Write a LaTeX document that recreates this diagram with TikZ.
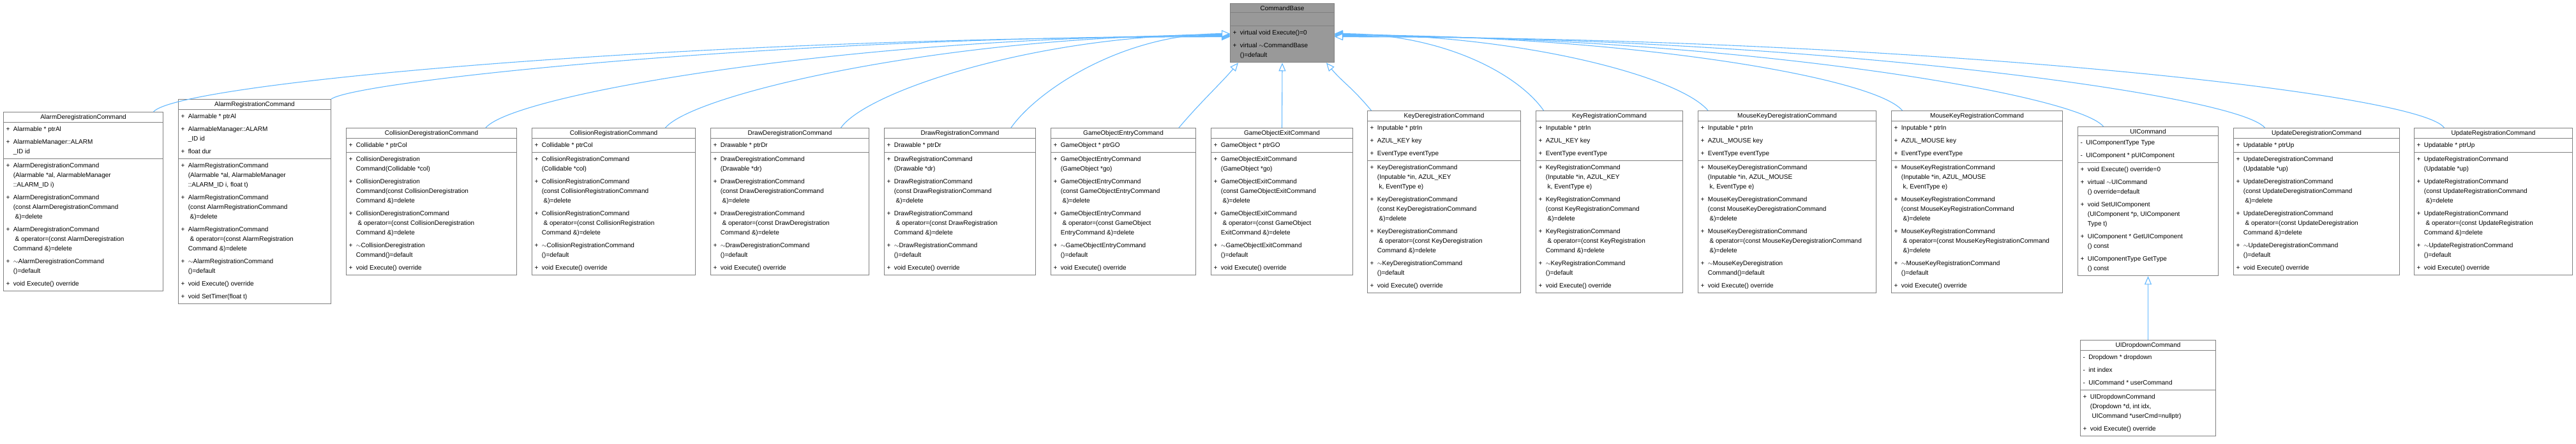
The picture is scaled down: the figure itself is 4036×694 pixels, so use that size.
\documentclass[tikz,border=0pt]{standalone}
\usepackage{fontspec}
\setmainfont{Liberation Sans}
\usetikzlibrary{shapes.multipart,arrows.meta}
\definecolor{edgeblue}{HTML}{63B8FF}
\definecolor{boxline}{HTML}{808080}
\definecolor{basefill}{HTML}{999999}
\newcommand\mrows[1]{\begin{tabular}{@{}l@{\ \ }l@{}}#1\end{tabular}}
\tikzset{
  umlclass/.style={rectangle split, rectangle split parts=3, draw=boxline, line width=1pt,
    fill=white, anchor=north west, inner xsep=4pt, inner ysep=3pt,
    rectangle split part align={center,left,left},
    font=\fontsize{10}{15}\selectfont},
  inh/.style={draw=edgeblue, line width=1.1pt, -{Triangle[open,length=13pt,width=11pt,fill=white]}}
}
\begin{document}
\begin{tikzpicture}[x=1pt,y=-1pt]
  \useasboundingbox (0,0) rectangle (4036,694);
  % base class
  \node[umlclass, fill=basefill, minimum width=163pt] (base) at (1927,5)
  {CommandBase\nodepart{two}\rule{0pt}{14pt}\nodepart{three}\mrows{+ & virtual void Execute()=0\\[5pt]
    + & virtual $\sim$CommandBase\\ & ()=default}};
  % derived classes
  \node[umlclass, minimum width=250pt] (alarmdereg) at (5,175)
  {AlarmDeregistrationCommand\nodepart{two}\mrows{+ & Alarmable * ptrAl\\[5pt]
    + & AlarmableManager::ALARM\\ & \_ID id}\nodepart{three}\mrows{
    + & AlarmDeregistrationCommand\\ & (Alarmable *al, AlarmableManager\\ & ::ALARM\_ID i)\\[5pt]
    + & AlarmDeregistrationCommand\\ & (const AlarmDeregistrationCommand\\ & \ \&)=delete\\[5pt]
    + & AlarmDeregistrationCommand\\ & \ \& operator=(const AlarmDeregistration\\ & Command \&)=delete\\[5pt]
    + & $\sim$AlarmDeregistrationCommand\\ & ()=default\\[5pt]
    + & void Execute() override}};
  \node[umlclass, minimum width=239pt] (alarmreg) at (279,155)
  {AlarmRegistrationCommand\nodepart{two}\mrows{+ & Alarmable * ptrAl\\[5pt]
    + & AlarmableManager::ALARM\\ & \_ID id\\[5pt] + & float dur}\nodepart{three}\mrows{
    + & AlarmRegistrationCommand\\ & (Alarmable *al, AlarmableManager\\ & ::ALARM\_ID i, float t)\\[5pt]
    + & AlarmRegistrationCommand\\ & (const AlarmRegistrationCommand\\ & \ \&)=delete\\[5pt]
    + & AlarmRegistrationCommand\\ & \ \& operator=(const AlarmRegistration\\ & Command \&)=delete\\[5pt]
    + & $\sim$AlarmRegistrationCommand\\ & ()=default\\[5pt]
    + & void Execute() override\\[5pt]
    + & void SetTimer(float t)}};
  \node[umlclass, minimum width=267pt] (coldereg) at (542,200)
  {CollisionDeregistrationCommand\nodepart{two}\mrows{+ & Collidable * ptrCol}\nodepart{three}\mrows{
    + & CollisionDeregistration\\ & Command(Collidable *col)\\[5pt]
    + & CollisionDeregistration\\ & Command(const CollisionDeregistration\\ & Command \&)=delete\\[5pt]
    + & CollisionDeregistrationCommand\\ & \ \& operator=(const CollisionDeregistration\\ & Command \&)=delete\\[5pt]
    + & $\sim$CollisionDeregistration\\ & Command()=default\\[5pt]
    + & void Execute() override}};
  \node[umlclass, minimum width=256pt] (colreg) at (833,200)
  {CollisionRegistrationCommand\nodepart{two}\mrows{+ & Collidable * ptrCol}\nodepart{three}\mrows{
    + & CollisionRegistrationCommand\\ & (Collidable *col)\\[5pt]
    + & CollisionRegistrationCommand\\ & (const CollisionRegistrationCommand\\ & \ \&)=delete\\[5pt]
    + & CollisionRegistrationCommand\\ & \ \& operator=(const CollisionRegistration\\ & Command \&)=delete\\[5pt]
    + & $\sim$CollisionRegistrationCommand\\ & ()=default\\[5pt]
    + & void Execute() override}};
  \node[umlclass, minimum width=248pt] (drawdereg) at (1113,200)
  {DrawDeregistrationCommand\nodepart{two}\mrows{+ & Drawable * ptrDr}\nodepart{three}\mrows{
    + & DrawDeregistrationCommand\\ & (Drawable *dr)\\[5pt]
    + & DrawDeregistrationCommand\\ & (const DrawDeregistrationCommand\\ & \ \&)=delete\\[5pt]
    + & DrawDeregistrationCommand\\ & \ \& operator=(const DrawDeregistration\\ & Command \&)=delete\\[5pt]
    + & $\sim$DrawDeregistrationCommand\\ & ()=default\\[5pt]
    + & void Execute() override}};
  \node[umlclass, minimum width=237pt] (drawreg) at (1385,200)
  {DrawRegistrationCommand\nodepart{two}\mrows{+ & Drawable * ptrDr}\nodepart{three}\mrows{
    + & DrawRegistrationCommand\\ & (Drawable *dr)\\[5pt]
    + & DrawRegistrationCommand\\ & (const DrawRegistrationCommand\\ & \ \&)=delete\\[5pt]
    + & DrawRegistrationCommand\\ & \ \& operator=(const DrawRegistration\\ & Command \&)=delete\\[5pt]
    + & $\sim$DrawRegistrationCommand\\ & ()=default\\[5pt]
    + & void Execute() override}};
  \node[umlclass, minimum width=227pt] (goentry) at (1646,200)
  {GameObjectEntryCommand\nodepart{two}\mrows{+ & GameObject * ptrGO}\nodepart{three}\mrows{
    + & GameObjectEntryCommand\\ & (GameObject *go)\\[5pt]
    + & GameObjectEntryCommand\\ & (const GameObjectEntryCommand\\ & \ \&)=delete\\[5pt]
    + & GameObjectEntryCommand\\ & \ \& operator=(const GameObject\\ & EntryCommand \&)=delete\\[5pt]
    + & $\sim$GameObjectEntryCommand\\ & ()=default\\[5pt]
    + & void Execute() override}};
  \node[umlclass, minimum width=222pt] (goexit) at (1897,200)
  {GameObjectExitCommand\nodepart{two}\mrows{+ & GameObject * ptrGO}\nodepart{three}\mrows{
    + & GameObjectExitCommand\\ & (GameObject *go)\\[5pt]
    + & GameObjectExitCommand\\ & (const GameObjectExitCommand\\ & \ \&)=delete\\[5pt]
    + & GameObjectExitCommand\\ & \ \& operator=(const GameObject\\ & ExitCommand \&)=delete\\[5pt]
    + & $\sim$GameObjectExitCommand\\ & ()=default\\[5pt]
    + & void Execute() override}};
  \node[umlclass, minimum width=240pt] (keydereg) at (2142,173)
  {KeyDeregistrationCommand\nodepart{two}\mrows{+ & Inputable * ptrIn\\[5pt]
    + & AZUL\_KEY key\\[5pt] + & EventType eventType}\nodepart{three}\mrows{
    + & KeyDeregistrationCommand\\ & (Inputable *in, AZUL\_KEY\\ & \ k, EventType e)\\[5pt]
    + & KeyDeregistrationCommand\\ & (const KeyDeregistrationCommand\\ & \ \&)=delete\\[5pt]
    + & KeyDeregistrationCommand\\ & \ \& operator=(const KeyDeregistration\\ & Command \&)=delete\\[5pt]
    + & $\sim$KeyDeregistrationCommand\\ & ()=default\\[5pt]
    + & void Execute() override}};
  \node[umlclass, minimum width=230pt] (keyreg) at (2406,173)
  {KeyRegistrationCommand\nodepart{two}\mrows{+ & Inputable * ptrIn\\[5pt]
    + & AZUL\_KEY key\\[5pt] + & EventType eventType}\nodepart{three}\mrows{
    + & KeyRegistrationCommand\\ & (Inputable *in, AZUL\_KEY\\ & \ k, EventType e)\\[5pt]
    + & KeyRegistrationCommand\\ & (const KeyRegistrationCommand\\ & \ \&)=delete\\[5pt]
    + & KeyRegistrationCommand\\ & \ \& operator=(const KeyRegistration\\ & Command \&)=delete\\[5pt]
    + & $\sim$KeyRegistrationCommand\\ & ()=default\\[5pt]
    + & void Execute() override}};
  \node[umlclass, minimum width=279pt] (mousedereg) at (2660,173)
  {MouseKeyDeregistrationCommand\nodepart{two}\mrows{+ & Inputable * ptrIn\\[5pt]
    + & AZUL\_MOUSE key\\[5pt] + & EventType eventType}\nodepart{three}\mrows{
    + & MouseKeyDeregistrationCommand\\ & (Inputable *in, AZUL\_MOUSE\\ & \ k, EventType e)\\[5pt]
    + & MouseKeyDeregistrationCommand\\ & (const MouseKeyDeregistrationCommand\\ & \ \&)=delete\\[5pt]
    + & MouseKeyDeregistrationCommand\\ & \ \& operator=(const MouseKeyDeregistrationCommand\\ & \ \&)=delete\\[5pt]
    + & $\sim$MouseKeyDeregistration\\ & Command()=default\\[5pt]
    + & void Execute() override}};
  \node[umlclass, minimum width=268pt] (mousereg) at (2963,173)
  {MouseKeyRegistrationCommand\nodepart{two}\mrows{+ & Inputable * ptrIn\\[5pt]
    + & AZUL\_MOUSE key\\[5pt] + & EventType eventType}\nodepart{three}\mrows{
    + & MouseKeyRegistrationCommand\\ & (Inputable *in, AZUL\_MOUSE\\ & \ k, EventType e)\\[5pt]
    + & MouseKeyRegistrationCommand\\ & (const MouseKeyRegistrationCommand\\ & \ \&)=delete\\[5pt]
    + & MouseKeyRegistrationCommand\\ & \ \& operator=(const MouseKeyRegistrationCommand\\ & \ \&)=delete\\[5pt]
    + & $\sim$MouseKeyRegistrationCommand\\ & ()=default\\[5pt]
    + & void Execute() override}};
  \node[umlclass, minimum width=220pt] (uicmd) at (3255,198)
  {UICommand\nodepart{two}\mrows{- & UIComponentType Type\\[5pt]
    - & UIComponent * pUIComponent}\nodepart{three}\mrows{
    + & void Execute() override=0\\[5pt]
    + & virtual $\sim$UICommand\\ & () override=default\\[5pt]
    + & void SetUIComponent\\ & (UIComponent *p, UIComponent\\ & Type t)\\[5pt]
    + & UIComponent * GetUIComponent\\ & () const\\[5pt]
    + & UIComponentType GetType\\ & () const}};
  \node[umlclass, minimum width=260pt] (updereg) at (3499,200)
  {UpdateDeregistrationCommand\nodepart{two}\mrows{+ & Updatable * ptrUp}\nodepart{three}\mrows{
    + & UpdateDeregistrationCommand\\ & (Updatable *up)\\[5pt]
    + & UpdateDeregistrationCommand\\ & (const UpdateDeregistrationCommand\\ & \ \&)=delete\\[5pt]
    + & UpdateDeregistrationCommand\\ & \ \& operator=(const UpdateDeregistration\\ & Command \&)=delete\\[5pt]
    + & $\sim$UpdateDeregistrationCommand\\ & ()=default\\[5pt]
    + & void Execute() override}};
  \node[umlclass, minimum width=248pt] (upreg) at (3782,200)
  {UpdateRegistrationCommand\nodepart{two}\mrows{+ & Updatable * ptrUp}\nodepart{three}\mrows{
    + & UpdateRegistrationCommand\\ & (Updatable *up)\\[5pt]
    + & UpdateRegistrationCommand\\ & (const UpdateRegistrationCommand\\ & \ \&)=delete\\[5pt]
    + & UpdateRegistrationCommand\\ & \ \& operator=(const UpdateRegistration\\ & Command \&)=delete\\[5pt]
    + & $\sim$UpdateRegistrationCommand\\ & ()=default\\[5pt]
    + & void Execute() override}};
  \node[umlclass, minimum width=212pt] (uidrop) at (3259,532)
  {UIDropdownCommand\nodepart{two}\mrows{- & Dropdown * dropdown\\[5pt]
    - & int index\\[5pt] - & UICommand * userCommand}\nodepart{three}\mrows{
    + & UIDropdownCommand\\ & (Dropdown *d, int idx,\\ & \ UICommand *userCmd=nullptr)\\[5pt]
    + & void Execute() override}};
  % inheritance, left side
  \draw[inh] ([xshift=110pt]alarmdereg.north) .. controls +(50:60pt) and +(-840pt,0pt) .. ([yshift=-6pt]base.west);
  \draw[inh] (alarmreg.north east) .. controls +(35:50pt) and +(-700pt,0pt) .. ([yshift=-5pt]base.west);
  \draw[inh] ([xshift=85pt]coldereg.north) .. controls +(50:70pt) and +(-580pt,0pt) .. ([yshift=-4pt]base.west);
  \draw[inh] ([xshift=81pt]colreg.north) .. controls +(50:70pt) and +(-440pt,0pt) .. ([yshift=-3pt]base.west);
  \draw[inh] ([xshift=80pt]drawdereg.north) .. controls +(55:70pt) and +(-300pt,0pt) .. ([yshift=-2pt]base.west);
  \draw[inh] ([xshift=80pt]drawreg.north) .. controls +(55:70pt) and +(-170pt,0pt) .. ([yshift=-1pt]base.west);
  % inheritance, below
  \draw[inh] ([xshift=87pt]goentry.north) .. controls +(50:50pt) and +(-130:40pt) .. ([xshift=-69pt]base.south);
  \draw[inh] (goexit.north) -- (base.south);
  \draw[inh] ([xshift=-114pt]keydereg.north) .. controls +(130:50pt) and +(-50:40pt) .. ([xshift=69pt]base.south);
  % inheritance, right side
  \draw[inh] ([xshift=-103pt]keyreg.north) .. controls +(125:70pt) and +(170pt,0pt) .. ([yshift=-1pt]base.east);
  \draw[inh] ([xshift=-124pt]mousedereg.north) .. controls +(130:70pt) and +(290pt,0pt) .. ([yshift=-2pt]base.east);
  \draw[inh] ([xshift=-117pt]mousereg.north) .. controls +(130:70pt) and +(445pt,0pt) .. ([yshift=-3pt]base.east);
  \draw[inh] ([xshift=-70pt]uicmd.north) .. controls +(130:70pt) and +(600pt,0pt) .. ([yshift=-4pt]base.east);
  \draw[inh] ([xshift=-81pt]updereg.north) .. controls +(130:70pt) and +(730pt,0pt) .. ([yshift=-5pt]base.east);
  \draw[inh] ([xshift=-77pt]upreg.north) .. controls +(125:70pt) and +(870pt,0pt) .. ([yshift=-6pt]base.east);
  \draw[inh] (uidrop.north) -- (uicmd.south);
\end{tikzpicture}
\end{document}
